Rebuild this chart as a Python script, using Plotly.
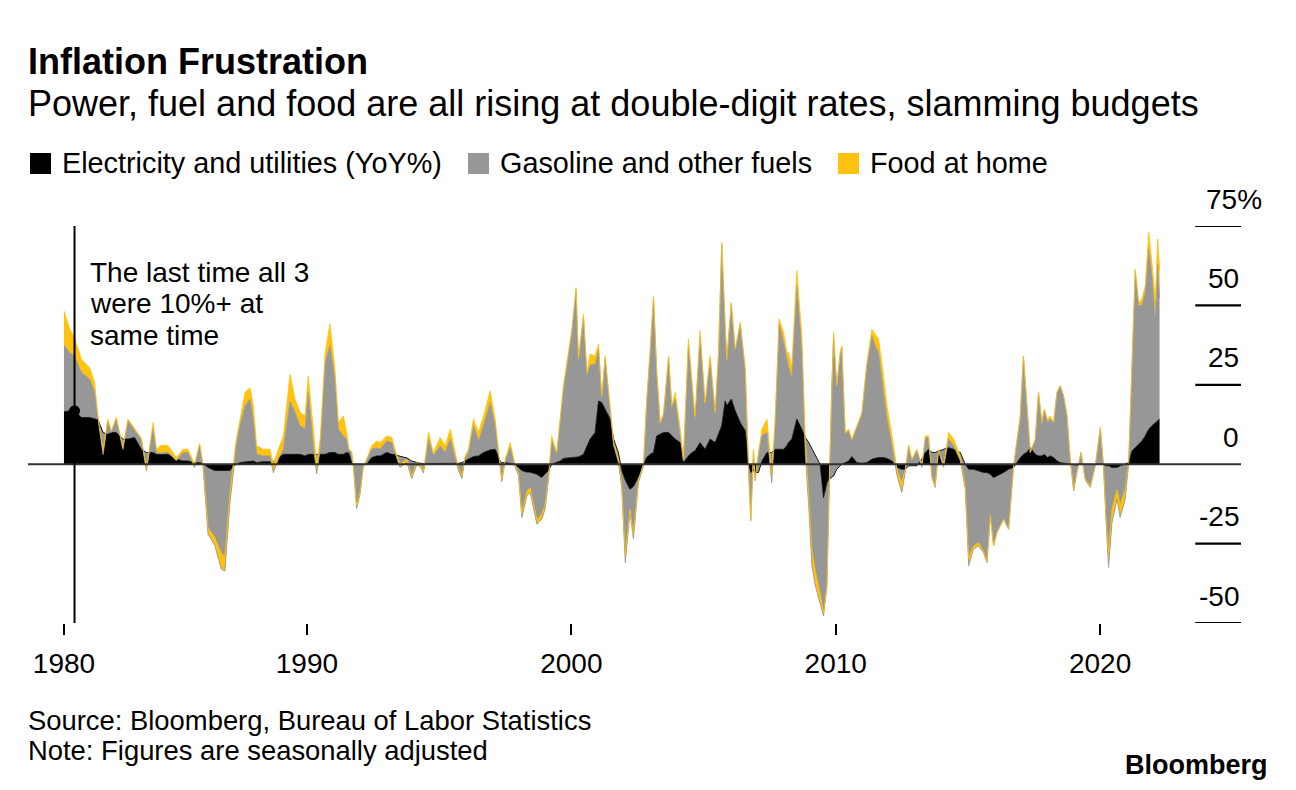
import plotly.graph_objects as go

# ---------------- data ----------------
years = [1980.81, 1981.03, 1981.21, 1981.47, 1981.78, 1981.97, 1982.10, 1982.29, 1982.47, 1982.60,
         1982.79, 1983.04, 1983.23, 1983.48, 1983.74, 1983.93, 1984.18, 1984.31, 1984.49, 1984.75,
         1985.06, 1985.31, 1985.50, 1985.75, 1985.94, 1986.07, 1986.26, 1986.51, 1986.76, 1986.90,
         1987.09, 1987.22, 1987.32, 1987.47, 1987.66, 1987.85, 1987.97, 1988.10, 1988.35, 1988.60,
         1988.73, 1988.92, 1989.11, 1989.36, 1989.55, 1989.74, 1989.93, 1990.05, 1990.24, 1990.37,
         1990.50, 1990.69, 1990.87, 1991.06, 1991.19, 1991.38, 1991.50, 1991.59, 1991.69, 1991.76,
         1991.88, 1992.01, 1992.13, 1992.26, 1992.45, 1992.64, 1992.77, 1993.02, 1993.21, 1993.33,
         1993.52, 1993.78, 1993.96, 1994.15, 1994.28, 1994.41, 1994.60, 1994.78, 1995.04, 1995.23,
         1995.42, 1995.60, 1995.73, 1995.86, 1995.98, 1996.11, 1996.30, 1996.49, 1996.68, 1996.93,
         1997.12, 1997.31, 1997.37, 1997.50, 1997.69, 1997.87, 1998.00, 1998.13, 1998.32, 1998.44,
         1998.70, 1998.88, 1999.01, 1999.14, 1999.26, 1999.45, 1999.58, 1999.70, 1999.89, 2000.02,
         2000.18, 2000.27, 2000.46, 2000.59, 2000.71, 2000.90, 2001.03, 2001.15, 2001.28, 2001.47,
         2001.60, 2001.78, 2001.91, 2002.04, 2002.16, 2002.22, 2002.35, 2002.54, 2002.73, 2002.85,
         2002.98, 2003.11, 2003.23, 2003.36, 2003.49, 2003.68, 2003.80, 2003.93, 2004.12, 2004.24,
         2004.43, 2004.56, 2004.68, 2004.87, 2005.06, 2005.25, 2005.44, 2005.57, 2005.69, 2005.82,
         2005.88, 2006.05, 2006.20, 2006.39, 2006.58, 2006.70, 2006.79, 2006.89, 2006.95, 2007.08,
         2007.21, 2007.40, 2007.58, 2007.71, 2007.86, 2008.03, 2008.15, 2008.21, 2008.34, 2008.53,
         2008.72, 2008.85, 2008.97, 2009.10, 2009.23, 2009.41, 2009.54, 2009.67, 2009.75, 2009.85,
         2009.92, 2010.04, 2010.17, 2010.23, 2010.36, 2010.49, 2010.61, 2010.80, 2010.99, 2011.18,
         2011.37, 2011.49, 2011.62, 2011.81, 2011.94, 2012.13, 2012.32, 2012.50, 2012.63, 2012.76,
         2012.88, 2013.07, 2013.26, 2013.39, 2013.51, 2013.64, 2013.76, 2013.89, 2014.08, 2014.27,
         2014.46, 2014.71, 2014.90, 2015.03, 2015.21, 2015.40, 2015.59, 2015.72, 2015.85, 2015.97,
         2016.10, 2016.35, 2016.54, 2016.73, 2016.98, 2017.10, 2017.23, 2017.36, 2017.55, 2017.67,
         2017.80, 2017.89, 2018.01, 2018.11, 2018.24, 2018.37, 2018.49, 2018.62, 2018.75, 2018.81,
         2018.87, 2019.00, 2019.12, 2019.28, 2019.44, 2019.63, 2019.82, 2020.01, 2020.13, 2020.23,
         2020.32, 2020.45, 2020.64, 2020.76, 2020.95, 2021.08, 2021.21, 2021.33, 2021.46, 2021.58,
         2021.71, 2021.84, 2021.96, 2022.09, 2022.18, 2022.25]

electricity = [16.5, 16.8, 16.8, 14.7, 14.7, 14.4, 14.0, 10.0, 9.4, 10.0,
               10.0, 7.9, 7.9, 8.4, 4.7, 3.7, 3.7, 3.1, 3.0, 3.1,
               1.6, 1.0, 1.0, 0.5, 0.5, 0.2, -1.0, -2.0, -2.0, -2.0,
               -2.0, -0.5, 0.0, 0.5, 0.7, 1.0, 1.0, 0.5, 0.8, 0.8,
               0.8, 2.1, 3.1, 3.1, 3.1, 3.1, 2.6, 3.1, 3.1, 3.0,
               3.1, 3.1, 3.7, 3.7, 3.1, 3.1, 3.7, 3.5, 0.5, 0.0,
               0.0, 0.0, 0.0, 0.0, 2.1, 2.6, 2.6, 3.7, 3.1, 3.1,
               2.5, 2.0, 1.0, 0.5, 0.3, 0.2, 0.2, 0.2, 0.2, 0.2,
               0.2, 0.2, 0.3, 0.5, 1.0, 1.6, 2.4, 2.6, 3.7, 4.5,
               4.7, 1.0, 0.5, 0.5, 0.3, 0.0, -1.0, -2.0, -2.5, -2.5,
               -3.2, -4.2, -3.0, -2.0, 0.0, 0.5, 1.0, 1.8, 2.0, 2.0,
               2.2, 2.3, 3.1, 5.8, 7.9, 10.0, 19.9, 19.4, 17.3, 14.2,
               7.9, 3.7, -2.0, -5.0, -7.0, -7.9, -7.0, -4.0, 0.0, 2.1,
               3.1, 3.7, 8.9, 9.4, 10.0, 10.0, 9.0, 7.9, 6.8, 0.5,
               2.6, 3.7, 4.2, 6.8, 4.7, 7.9, 6.8, 9.4, 12.1, 19.9,
               18.4, 20.5, 16.8, 13.1, 10.5, 0.0, -2.6, -2.0, -2.6, -2.6,
               1.0, 3.7, 3.7, 4.7, 4.7, 4.7, 5.8, 6.8, 7.9, 14.2,
               11.0, 8.4, 7.0, 5.0, 3.0, 0.0, -10.5, -5.8, -4.7, -4.2,
               -3.7, -1.6, -0.5, 0.0, 0.5, 1.0, 2.4, 0.5, 0.3, 0.5,
               1.6, 1.8, 2.1, 2.1, 1.8, 1.0, -1.0, -1.6, -1.6, -0.5,
               -0.5, -0.5, 1.6, 3.7, 4.7, 3.7, 3.7, 4.2, 4.7, 5.2,
               4.7, 3.7, 0.0, -1.6, -1.6, -2.1, -2.6, -2.6, -3.2, -4.2,
               -3.7, -2.6, -1.6, -1.0, 2.0, 3.1, 3.7, 5.2, 3.1, 2.6,
               2.6, 3.1, 2.1, 2.6, 2.1, 1.0, 0.5, 0.3, 0.2, 0.0,
               0.0, -0.3, -0.3, 0.0, 0.0, 0.0, 0.0, 0.2, 0.0, -0.5,
               -0.5, -1.0, -1.0, -0.5, 0.0, 0.5, 4.2, 5.2, 6.3, 7.3,
               8.9, 11.0, 12.1, 13.1, 13.6, 14.2]

gasoline = [21.0, 18.3, 17.3, 14.2, 12.1, 8.2, 0.3, -7.0, 4.2, 0.0,
            4.2, -3.2, 5.8, 2.3, 3.0, -5.8, 7.8, 0.5, 0.5, 0.6,
            -0.5, 2.7, 2.7, -1.5, 5.3, -1.0, -21.0, -23.5, -31.0, -31.6,
            -10.0, -2.0, 5.8, 11.6, 17.7, 19.5, 13.2, 2.6, 1.8, 1.8,
            -3.5, -0.5, 1.6, 16.8, 13.2, 9.0, 8.4, 19.5, 2.7, -6.0,
            1.6, 28.9, 33.6, 23.1, 7.9, 5.8, 4.2, 0.7, 3.2, -1.0,
            -14.0, -9.4, -1.0, 1.2, 2.6, 2.6, 2.1, 3.6, 3.7, 0.5,
            -3.5, -1.4, -5.5, -0.8, -1.0, -3.0, 7.7, 2.5, 5.6, 3.5,
            7.7, 2.0, -2.3, -5.0, 0.8, 2.1, 9.7, 4.7, 8.4, 14.9,
            7.4, -2.0, -6.0, 0.5, 5.0, -0.8, -2.4, -14.8, -7.5, -6.4,
            -15.7, -13.1, -11.2, -2.7, 7.3, 2.7, 12.2, 21.3, 32.0, 39.5,
            52.4, 29.7, 43.1, 22.0, 23.3, 21.5, 16.3, 1.1, 15.8, 3.1,
            -2.0, -3.0, -5.8, -26.0, -12.4, -7.3, -16.6, -1.8, -0.5, 17.3,
            32.1, 48.8, 20.0, 3.2, 5.3, 23.6, 8.9, 12.6, 2.1, 0.6,
            34.7, 21.0, 8.9, 33.6, 13.7, 25.1, 8.9, 25.3, 57.2, 23.2,
            14.1, 29.9, 18.9, 31.0, 19.0, -0.8, -15.2, 6.0, -2.6, 5.8,
            8.0, 6.3, -9.6, 7.5, 39.4, 33.6, 27.2, 24.2, 18.9, 42.0,
            25.2, -5.0, -19.0, -37.0, -41.3, -43.6, -37.3, -32.5, -2.6, 28.4,
            44.2, 25.8, 35.2, 36.8, 9.0, 9.5, 5.0, 11.1, 15.3, 30.4,
            38.8, 35.5, 33.1, 20.5, 12.4, 4.8, -2.6, -7.3, -1.0, 6.0,
            1.6, 4.7, -2.6, 4.7, 3.7, -7.9, -11.0, 0.0, -5.7, 2.7,
            1.1, -2.5, -7.8, -30.4, -25.2, -23.6, -25.2, -28.4, -13.1, -21.5,
            -17.8, -14.7, -18.9, 0.5, 13.0, 31.0, 13.6, -1.5, 4.8, 20.0,
            10.5, 14.2, 11.0, 11.6, 11.0, 21.6, 24.2, 21.2, 15.0, 6.8,
            1.6, -8.1, -2.3, 3.7, -5.0, -7.3, -0.5, 11.3, -1.0, -18.0,
            -32.0, -17.4, -10.0, -16.3, -11.0, -0.5, 27.3, 55.7, 43.6, 42.6,
            45.2, 56.7, 47.2, 31.9, 49.3, 38.2]

food_at_home = [10.8, 7.4, 5.8, 4.1, 3.6, 3.1, 0.5, 1.5, 0.6, 0.5,
                0.5, 0.5, 0.5, 0.5, 0.5, 0.5, 1.6, 1.1, 2.5, 2.1,
                1.0, 1.0, 1.0, 1.0, 0.8, 0.8, 2.0, 2.5, 5.0, 4.5,
                3.0, 3.0, 1.5, 2.0, 4.2, 3.6, 4.2, 2.7, 2.1, 2.1,
                2.7, 3.1, 4.2, 8.4, 4.2, 4.2, 4.2, 5.2, 4.2, 3.0,
                3.2, 3.2, 6.8, 3.1, 2.1, 6.3, 2.1, 0.5, 0.3, 0.5,
                1.0, 0.5, 0.5, 0.4, 1.1, 2.1, 2.1, 1.6, 1.6, 1.1,
                1.0, 1.0, 0.8, 0.8, 0.7, 0.7, 2.1, 1.0, 2.6, 2.1,
                3.1, 1.5, 1.0, 0.8, 0.8, 1.0, 2.1, 2.7, 3.1, 3.7,
                2.1, 0.5, 0.8, 0.6, 1.5, 0.8, 0.8, 1.5, 1.5, 1.5,
                1.5, 1.5, 1.5, 1.0, 1.6, 0.5, 1.0, 1.6, 1.2, 1.0,
                1.0, 1.5, 1.0, 1.1, 3.4, 2.6, 1.6, 1.0, 1.0, 0.5,
                1.0, 0.9, 1.0, 2.5, 1.0, 1.0, 1.5, 1.0, 0.5, 0.3,
                0.3, 0.3, 0.5, 0.5, 1.0, 0.5, 0.5, 2.1, 2.1, 0.5,
                2.1, 2.1, 2.1, 1.6, 1.0, 1.1, 0.6, 0.5, 0.5, 0.5,
                0.5, 0.5, 0.5, 0.5, 0.4, 0.8, 0.5, 0.7, 0.5, 0.5,
                2.0, 4.2, 3.3, 2.0, 1.6, 3.2, 2.2, 4.2, 4.2, 4.7,
                4.2, 4.5, 4.0, 5.0, 4.5, 3.0, 1.0, 0.5, 0.5, 0.5,
                1.0, 0.5, 0.5, 0.5, 0.5, 0.5, 0.5, 0.5, 0.7, 1.1,
                2.1, 3.6, 4.2, 5.2, 4.2, 3.1, 2.0, 3.0, 1.0, 0.5,
                0.5, 0.5, 0.5, 0.5, 0.5, 0.5, 0.5, 0.5, 0.5, 2.1,
                2.1, 1.4, 1.0, 2.5, 1.0, 1.0, 0.5, 0.3, 0.3, 0.0,
                0.0, 0.0, 0.0, 0.0, 0.0, 0.0, 0.0, 0.0, 0.0, 0.0,
                0.0, 0.0, 1.0, 1.0, 0.0, 0.0, 0.0, 0.0, 0.0, 0.0,
                0.0, 0.6, 0.0, 0.0, 0.3, 0.5, 0.0, 0.0, 0.5, 1.2,
                5.2, 4.2, 3.0, 4.0, 3.0, 0.5, 0.5, 0.5, 1.0, 2.1,
                2.1, 5.3, 4.2, 7.0, 8.0, 9.0]

series_names = ["Electricity and utilities (YoY%)", "Gasoline and other fuels", "Food at home"]
x_tick_years = [1980.81, 1990, 2000, 2010, 2020]
x_tick_text = ["1980", "1990", "2000", "2010", "2020"]
y_ticks = [75, 50, 25, 0, -25, -50]
y_tick_text = ["75%", "50", "25", "0", "-25", "-50"]
highlight_index = 2   # the last time all three were at 10%+

# ---------------- styling ----------------
FONT = "Liberation Sans, Arial, Helvetica, sans-serif"
BLACK = "#000000"
GRAY = "#979797"
YELLOW = "#FFC20E"
OFF = 8                      # page body margin of the browser
W, H = 1296 - OFF, 790 - OFF
PLOT_L, PLOT_R, PLOT_T, PLOT_B = 28, 1241, 226, 623   # page-pixel plot box
ML = PLOT_L - OFF
MR = W - (PLOT_R - OFF)
MT = PLOT_T - OFF
MB = H - (PLOT_B - OFF)
X_RANGE = [1979.45, 2025.33]
Y_RANGE = [-50, 75]
PW = W - ML - MR
PH = H - MT - MB


def px(xpix):
    return (xpix - OFF - ML) / PW


def py(ypix):
    return (H - MB - (ypix - OFF)) / PH


fig = go.Figure()
for name, vals, col in zip(series_names, [electricity, gasoline, food_at_home], [BLACK, GRAY, YELLOW]):
    fig.add_trace(go.Scatter(
        x=years, y=vals, name=name, stackgroup="one", mode="lines",
        line=dict(color=col, width=0.8), fillcolor=col, showlegend=False,
        hoverinfo="skip"))

# highlight dot on the electricity series
fig.add_trace(go.Scatter(
    x=[years[highlight_index]], y=[electricity[highlight_index]], mode="markers",
    marker=dict(color=BLACK, size=11), showlegend=False, hoverinfo="skip"))

shapes = []
shapes.append(dict(type="line", xref="x", yref="y", x0=X_RANGE[0], x1=X_RANGE[1], y0=0, y1=0,
                   line=dict(color="#333333", width=2), layer="above"))
for v in y_ticks:
    if v != 0:
        shapes.append(dict(type="line", xref="x", yref="y", x0=2023.6, x1=X_RANGE[1], y0=v, y1=v,
                           line=dict(color=BLACK, width=2.2), layer="above"))
shapes.append(dict(type="line", xref="x", yref="y", x0=years[highlight_index], x1=years[highlight_index],
                   y0=Y_RANGE[0], y1=Y_RANGE[1], line=dict(color=BLACK, width=2), layer="above"))

annotations = []
for v, t in zip(y_ticks, y_tick_text):
    if t.endswith("%"):
        annotations.append(dict(xref="paper", yref="y", x=px(1204), y=v, text=t, showarrow=False,
                                xanchor="left", yanchor="middle", yshift=27,
                                font=dict(family=FONT, size=28, color=BLACK)))
    else:
        annotations.append(dict(xref="x", yref="y", x=X_RANGE[1], y=v, text=t, showarrow=False,
                                xanchor="right", yanchor="middle", yshift=27,
                                font=dict(family=FONT, size=28, color=BLACK)))

annotations.append(dict(xref="paper", yref="paper", x=px(26), y=py(62), text="<b>Inflation Frustration</b>",
                        showarrow=False, xanchor="left", yanchor="middle",
                        font=dict(family=FONT, size=36, color=BLACK)))
annotations.append(dict(xref="paper", yref="paper", x=px(26), y=py(104),
                        text="Power, fuel and food are all rising at double-digit rates, slamming budgets",
                        showarrow=False, xanchor="left", yanchor="middle",
                        font=dict(family=FONT, size=36, color=BLACK)))

legend_items = [(30, 60, BLACK), (468, 498, GRAY), (838, 868, YELLOW)]
for (sx, tx, col), name in zip(legend_items, series_names):
    shapes.append(dict(type="rect", xref="paper", yref="paper", x0=px(sx), x1=px(sx + 21),
                       y0=py(174), y1=py(153), fillcolor=col, line=dict(width=0)))
    annotations.append(dict(xref="paper", yref="paper", x=px(tx), y=py(163), text=name,
                            showarrow=False, xanchor="left", yanchor="middle",
                            font=dict(family=FONT, size=28.8, color=BLACK)))

for i, line in enumerate(["The last time all 3", "were 10%+ at", "same time"]):
    annotations.append(dict(xref="paper", yref="paper", x=px(88), y=py(272 + 31.5 * i), text=line,
                            showarrow=False, xanchor="left", yanchor="middle",
                            font=dict(family=FONT, size=28, color=BLACK)))

annotations.append(dict(xref="paper", yref="paper", x=px(26), y=py(720),
                        text="Source: Bloomberg, Bureau of Labor Statistics",
                        showarrow=False, xanchor="left", yanchor="middle",
                        font=dict(family=FONT, size=27.4, color=BLACK)))
annotations.append(dict(xref="paper", yref="paper", x=px(26), y=py(750),
                        text="Note: Figures are seasonally adjusted",
                        showarrow=False, xanchor="left", yanchor="middle",
                        font=dict(family=FONT, size=27.4, color=BLACK)))
annotations.append(dict(xref="paper", yref="paper", x=px(1270), y=py(765), text="<b>Bloomberg</b>",
                        showarrow=False, xanchor="right", yanchor="middle",
                        font=dict(family=FONT, size=27, color=BLACK)))

fig.update_layout(
    width=W, height=H,
    margin=dict(l=ML, r=MR, t=MT, b=MB, autoexpand=False),
    paper_bgcolor="white", plot_bgcolor="white",
    showlegend=False,
    shapes=shapes, annotations=annotations,
    xaxis=dict(range=X_RANGE, showgrid=False, zeroline=False, showline=False,
               tickmode="array", tickvals=x_tick_years, ticktext=x_tick_text,
               ticks="outside", ticklen=11, tickwidth=2, tickcolor=BLACK,
               ticklabelstandoff=4,
               tickfont=dict(family=FONT, size=28, color=BLACK), fixedrange=True),
    yaxis=dict(range=Y_RANGE, visible=False, fixedrange=True),
    font=dict(family=FONT, color=BLACK),
)

fig.write_html("out.html")
